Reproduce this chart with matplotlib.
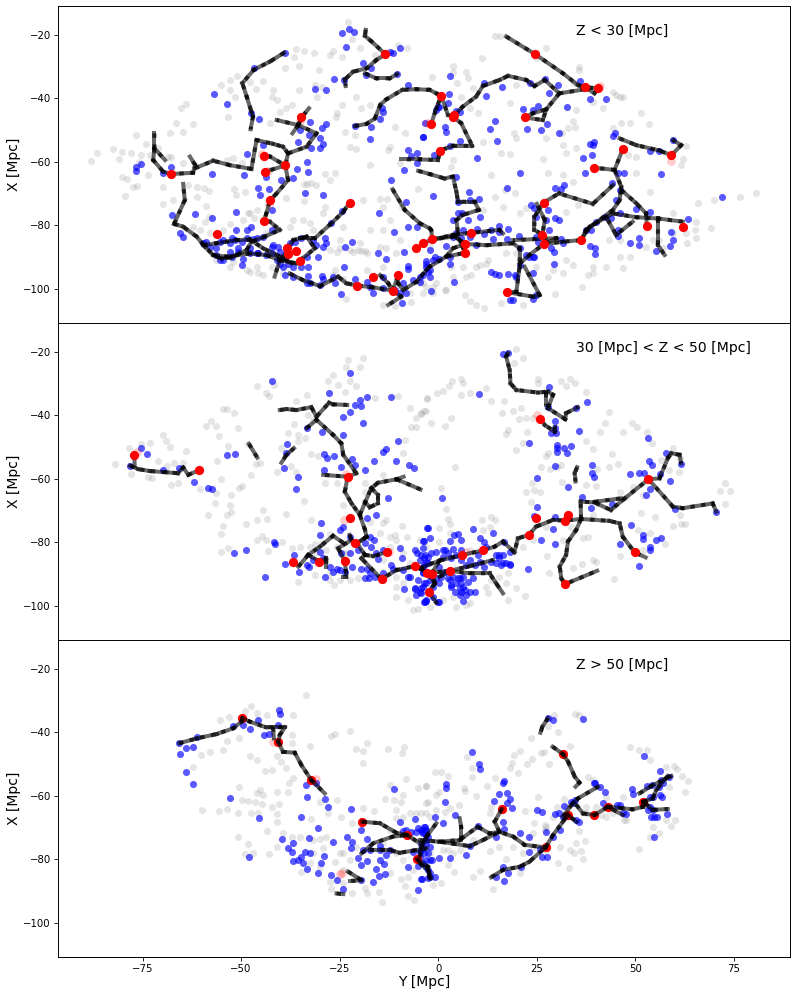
import matplotlib
matplotlib.use('Agg')
import matplotlib.pyplot as plt

# (Y, X) in Mpc
grey_low = [(-88,-59.6),(-86.5,-57.1),(-82.6,-55.8),(-81,-59),(-80.1,-56.8),(-78,-57.3),(-76.7,-51.5),(-75.5,-57.8),(-75.9,-59.9),(-74.2,-54.4),(-73.2,-57.8),(-71,-55.7),(-68.1,-51),(-66.6,-47.6),(-65.3,-43.1),(-63.9,-41.7),(-62.3,-48),(-64.7,-50.5),(-68.5,-58.3),(-67.7,-58.3),(-64.7,-60.4),(-80.3,-64.6),(-79,-65.5),(-79.5,-70.6),(-77.4,-68),(-76.4,-67.5),(-73.7,-64.1),(-69.9,-67.9),(-67.2,-72),(-69.8,-73.2),(-63.4,-67.3),(-61.3,-68),(-59.5,-68.3),(-61.3,-71.1),(-58.1,-69),(-58.8,-73.9),(-58.1,-77.2),(-59.2,-78.8),(-53.7,-59.4),(-52,-58.9),(-49.9,-60.4),(-51.9,-68.6),(-51.3,-70.4),(-49.1,-69.4),(-48.2,-76.2),(-46.8,-77.8),(-49.5,-78.3),(-52.9,-79.5),(-55,-35.9),(-52.9,-34.2),(-51,-32.9),(-47.8,-34.7),(-46.3,-37.1),(-44.4,-34.5),(-41.9,-37.3),(-42.1,-39.4),(-40.9,-40.5),(-51.5,-39.6),(-52.9,-37.3),(-53.3,-46),(-40.2,-44.2),(-38.5,-43.1),(-37,-42),(-42.7,-47.8),(-38.9,-30.5),(-36.6,-26.8),(-36,-24.5),(-34.1,-25.1),(-31.6,-25.8),(-35.3,-29.8),(-30.2,-31.2),(-26.7,-25.2),(-27.4,-26.3),(-24.3,-26.8),(-23,-15.8),(-21.8,-21.4),(-19.9,-24.2),(-16.1,-26.3),(-10.2,-23.2),(-7.9,-24),(-31.3,-35.8),(-30.7,-39.7),(-35.3,-37.3),(-29.6,-36.5),(-25.8,-44.7),(-26,-45.7),(-24.3,-42),(-20.8,-39.7),(-19.5,-43.1),(-17.2,-42),(-14.8,-45.2),(-11,-48.9),(-8.5,-51),(-23.7,-50.5),(-21.2,-51.5),(-22.5,-55.2),(-20.8,-55.9),(-12.3,-55.2),(-12.7,-56.2),(-17.2,-61),(-9.8,-60.4),(-5.1,-68.4),(-13,-71.7),(-14.8,-71.8),(-14,-74.1),(-19,-72),(-26.3,-63.6),(-28.8,-63.9),(-34.1,-67),(-32.2,-66.5),(-33.4,-67),(-30.9,-67.3),(-38.5,-71.5),(-34.1,-72.3),(-27.5,-65.7),(-28.8,-74.1),(-36.8,-78.3),(-34.3,-78.3),(-32.6,-79.3),(-29.2,-76.2),(-24.1,-80.4),(-19.9,-85.6),(-18.6,-87.9),(-25,-84.6),(-25.8,-88.3),(-21.6,-88.3),(-17.4,-81.4),(-14,-81.4),(-12.3,-78.3),(-9.8,-84.6),(-47.8,-94.5),(-45.7,-94.9),(-44.4,-95.6),(-42.3,-93),(-38.9,-92.5),(-26.7,-95.6),(-24.1,-97),(-23.5,-103),(-26.3,-94),(-14,-105),(-11,-105.4),(-6.8,-104),(-10.6,-88.8),(-2.2,-86.7),(-9.1,-74.1),(-56.3,-90.9),(-52,-91.4),(-48.6,-94),(-57.9,-82.5),(-60.5,-81.4),(-62.2,-80.4),(-54.6,-81.4),(-47.8,-76.2),(-46.1,-75.1),
    (14.3,-20.5),(15.6,-20.3),(11,-27.4),(3.7,-29.8),(-1.5,-33.1),(4.8,-35),(7.5,-33.7),(7.1,-31.6),(3.7,-31.6),(5.8,-39.4),(8,-43.1),(10,-44.5),(8.8,-36.8),(18.1,-41.5),(19.8,-35.8),(24.8,-27.4),(27.4,-24.2),(35.7,-30),(35.7,-31.2),(34.3,-35),(39.2,-41),(41.7,-43.1),(44.3,-37.9),(46.8,-39.7),(45.1,-38.9),(46,-39.4),(35,-43.6),(34.1,-47),(32.9,-49.4),(34.7,-49.1),(31.4,-50.8),(27.4,-52.5),(31.6,-54.7),(32.5,-57.3),(35,-55.7),(26.5,-59.2),(27.8,-63.6),(31.6,-64.1),(34.1,-66.2),(19.3,-51),(19.8,-52.5),(11.3,-53.6),(16,-57.3),(18.1,-57.5),(3.7,-59.4),(3.3,-61.5),(13.4,-64.1),(14.3,-71),(16.8,-68.8),(19.4,-69.9),(11.3,-75.1),(16.4,-74.1),(20.6,-76.2),(22.3,-74.6),(32.5,-75.7),(35.4,-73.5),(50.2,-63.6),(48.1,-57.8),(50.2,-58.3),(53.4,-48),(51.5,-44.5),(44.3,-49.4),(48.5,-47.8),(46.4,-47.8),(62,-59.2),(62.9,-54.9),(61.6,-61),(65.8,-73),(70,-72),(76.5,-71),(80.6,-69.7),(65.4,-78.8),(65,-81.4),(65.4,-84),(63.1,-85.6),(69.2,-80.9),(53.6,-69.4),(59.5,-76.2),(54.4,-84.6),(57,-87.2),(46,-84.6),(43.4,-84.6),(48.5,-89.8),(46.8,-93.5),(42.6,-93),(39.2,-95),(38,-95.6),(36.5,-99.5),(31.6,-95),(34.1,-92.5),(27.8,-96.1),(29.5,-101.7),(16,-104.5),(11.7,-106.1),(9.6,-105),(8,-103.9),(6.7,-101.9),(1.6,-100.3),(-1.4,-99.3),(7.1,-96.1),(8.4,-95.6),(12.6,-90.9),(10.5,-92.5),(-3.9,-101.4),(-4.7,-98.2),(3.3,-93),(6.3,-93),(21.5,-105)]
grey_low_dense = [(-25,-87.2),(-22.5,-87.7),(-20.3,-87.7),(-19.5,-87.9),(-18.2,-88.8),(-14.8,-86.7),(-13.2,-87.2),(-27.5,-87.7),(-43.6,-82.5),(-37.7,-80.4),(-31.8,-81.4),(-46.1,-93),(-52.9,-93),(-39.4,-95.1),(-14,-93),(-18.2,-94),(-7.2,-101.4),(-3,-99.3),(-3.9,-98.2),(-0.5,-98.2),(-1.4,-101.4),(2,-100.3),(3.7,-96.1),(9.6,-93),(12.2,-92),(17.2,-88.8),(19.8,-88.8),(24.8,-93),(29.1,-94),(32.5,-90.9),(39.2,-93),(46,-89.8),(52.7,-86.7),(56.1,-84.6),(59.5,-82.5),(62.9,-82.5)]
blue_low = [(-24.3,-19.4),(-22.7,-18.2),(-21.4,-19),(-23.5,-23.8),(-9.8,-24.2),(-11.5,-25.6),(-12.3,-25.3),(-19.2,-28.7),(-17,-30.5),(-26.5,-33.9),(-24,-34.2),(-18.4,-32.6),(-31.3,-36.9),(-28.4,-37.5),(-10.4,-32.3),(-7.7,-35.8),(-14.4,-43.1),(-14,-44.2),(-14.7,-46.5),(-17,-48.9),(-21.2,-48.7),(-17.4,-52.9),(-4,-52),(-3.4,-47.6),(-38.9,-25.6),(-46.8,-30.5),(-56.8,-38.6),(-53.5,-41.6),(-47.4,-44.7),(-45.4,-46.6),(-32.6,-47.3),(-28.4,-48),(-29.6,-49.4),(-35.1,-50),(-32.8,-51.6),(-29.9,-52.5),(-29.2,-54.3),(-29.9,-55.7),(-35.5,-53.6),(-32.2,-55.7),(-44.4,-54.7),(-48.4,-57.4),(-33.4,-60.1),(-35.8,-62.3),(-36.8,-65.2),(-33,-63.1),(-39.8,-65.7),(-43,-68.5),(-45.7,-68.2),(-45.2,-70.4),(-33.7,-69.9),(-29.2,-70.4),(-42.1,-75.1),(-51.4,-75.9),(-61.8,-76.3),(-57.4,-77.8),(-67.6,-76.8),(-51.2,-81.4),(-48.6,-81.4),(-47.4,-80.4),(-65.5,-82.5),(-64.7,-83.5),(-75.5,-60.7),(-76.7,-61.7),(-76.7,-62.8),(-67.7,-61.7),(-69.8,-63.4),(-57.5,-63.8),(-49.2,-64.2),(-43.6,-64.6),(-7.7,-56.2),(-6.8,-58),(-5.3,-57.1),(-5.3,-60.4),(-8.8,-62.6),(-12.1,-65.7),(-8.1,-72.5),(-15,-76.2),(-11.2,-82.2),(-7.7,-80.4),(-5.3,-80.4),(-22,-85.1),(-23.7,-86.9),(-15.3,-88.8),(-13.2,-90.4),(-8.8,-88.3),(-7.7,-92.7),(-7.7,-93.8),(-3,-91.2),(-24,-93.2),(-33,-95.9),(-33.4,-98.2),(-29.6,-95.9),(-29.2,-97),(-26.3,-98.2),(-24.7,-101.6),(-16.5,-101.4),(-8.1,-101.4),(-9.1,-104.3),(-21.2,-96.7),(-18.2,-97.7),(-30.5,-89.8),(-33,-93),(-36.8,-93),(-38.9,-95.6),(-49.9,-92.5),(-55.4,-90.9),(-52.9,-88.3),(-50.8,-87.2),(-47.8,-87.2),(-42.3,-86.7),(-40.2,-88.3),(-28.8,-84),(-28.4,-85.6),(-29.2,-86.7),(-27.1,-79.1),(-24.3,-75.4),(-42.3,-81.4),(-47,-84.4),(-52.4,-84),(-55.4,-85.1),(-59.6,-85.6),(-46.1,-88.8),(-49.5,-90.4),
    (3,-32.8),(11.5,-35),(16.2,-36.3),(12.2,-39.2),(27,-33.8),(23.2,-35.2),(30.3,-35.8),(28.2,-38.4),(36,-34.4),(38.4,-40.3),(42.6,-40.3),(2.6,-38.7),(-0.1,-42.8),(4.6,-44),(21.6,-43.2),(24,-43.6),(25.3,-42.4),(32.7,-42.6),(22.6,-49.5),(26,-49.9),(27.6,-48),(30.5,-51),(14.4,-47),(13.2,-49.7),(14.8,-53.3),(1.6,-49.1),(1.9,-50.6),(-4,-52),(5.4,-53.3),(2.9,-54.9),(-1.2,-57.7),(9.7,-58.9),(20.6,-63.4),(17.5,-68.3),(4.4,-64.6),(7.7,-69.4),(-1.4,-70.7),(5,-72.5),(10.2,-71.7),(10.6,-77.2),(6.1,-76.2),(29.5,-68.3),(32,-67.3),(31.2,-68.6),(23.6,-73.6),(27.8,-75.1),(29.5,-77.8),(30.5,-78.3),(28.2,-81.4),(17.7,-81.1),(15.4,-80.2),(9.8,-81.1),(20.4,-83.3),(17.4,-84.2),(13.9,-84.4),(11.5,-82.7),(1.9,-86.5),(-0.9,-89.8),(2.9,-92.1),(-2.2,-87.7),(31.2,-84.3),(29.4,-88.3),(29.3,-92),(24.4,-89.8),(24,-94.9),(13.3,-94.5),(14.3,-95.3),(15.4,-95.7),(17.6,-95.4),(19.4,-95.6),(3.9,-97.9),(-1.8,-100.6),(18.1,-103.5),(19,-103.5),(38.4,-86.5),(39.8,-89.1),(39.8,-87),(48.5,-85.4),(50.9,-86),(51,-84),(45.5,-83.3),(55.3,-88),(58.8,-86.5),(58.9,-82.2),(59.6,-84.6),(50.2,-74.9),(53.8,-75.7),(42.2,-77.2),(39.9,-78.8),(63.4,-78),(71.9,-70.9),(56.4,-63.9),(47.2,-63.6),(44.1,-66.7),(39.2,-54.7),(38.4,-54.4),(39.6,-53.6),(39.1,-57.9),(36.7,-58.8),(37.3,-63.4),(44.3,-51.8),(44.7,-51),(53.6,-56.5),(59.4,-53.1),(56,-56.5)]
blue_low_dense = [(-58.8,-85.1),(-58,-86.7),(-56.3,-87.2),(-54.6,-84.6),(-52.9,-85.6),(-51.6,-84.6),(-49.9,-85.1),(-48.6,-84),(-46.1,-84),(-44.4,-83.5),(-56.3,-89.3),(-54.6,-90.9),(-52.4,-89.8),(-50.8,-88.3),(-47.8,-88.8),(-45.7,-88.8),(-43.6,-89.3),(-42.3,-88.8),(-41,-90.9),(-40.2,-92),(-39.4,-89.8),(-38,-92),(-37.7,-85.6),(-36.4,-85.1),(-34.7,-84),(-31.8,-84.6),(-30.9,-86.2),(-33.4,-89.8),(-34.7,-93),(-39.4,-93),(-40.6,-86.7),(-41.9,-86.2),(-11,-100.3),(-9.8,-101.4),(-14,-99.8),(-17.4,-99.3),(-8.9,-98.2),(-6.4,-97.2),(-4.7,-96.1),(-3,-93),(-2.6,-94.5),(-14,-96.1),(-26.7,-96.1),(-30,-98.7),(-32.6,-98.2),(-36.8,-96.1),
    (-2.2,-94),(-3.1,-92),(-1.4,-90.9),(0.3,-90.4),(2.9,-89.8),(-3.9,-95.6),(-2.2,-96.1),(-4.7,-97.7),(4.6,-82.5),(5.8,-84),(3.7,-83.5),(6.3,-81.4),(8,-83.5),(9.6,-86.2),(13.4,-81.4),(15.5,-82),(20.6,-87.2),(22.3,-89.3),(24,-89.8),(24.8,-83.5),(25.3,-85.1),(28.7,-87.2),(31.6,-85.6),(37.5,-81.4),(38.8,-81.4),(43.9,-77.8),(45.5,-81.4),(46,-76.2),(45.1,-72),(46,-68.8),(45.5,-63.6),(24.4,-74.6),(24.8,-77.2),(27.4,-78.3),(5.4,-44.2),(0.3,-42.6),(-0.5,-43.6),(2.4,-41.5),(24,-103),(24.8,-101.9),(19.8,-96.1),(20.6,-92.5),(23.1,-89.8),(3.7,-78.3),(5,-76.2),(7.5,-78.3),(8,-72)]
red_low = [(-13.4,-26.1),(-34.7,-46),(-44.2,-58.2),(-38.8,-61.1),(-44,-63.1),(-67.7,-63.8),(-42.7,-72.1),(-22.5,-72.8),(-44.2,-78.5),(-56.2,-82.8),(-38.3,-87.2),(-36.2,-88),(-38,-89),(-35,-91.1),(-16.5,-96.1),(-10.1,-95.7),(-20.5,-98.9),(-11.6,-100.5),(-5.7,-87.2),(-3.9,-85.6),(24.6,-26.1),(37.3,-36.5),(40.6,-36.8),(0.75,-39.2),(3.7,-46),(4,-45.2),(-1.8,-48),(21.9,-46),(0.5,-56.4),(46.8,-55.9),(59.1,-57.9),(39.4,-61.8),(26.7,-72.8),(26.4,-82.9),(26.7,-85.9),(8.4,-82.3),(6.8,-85.8),(6.8,-88.6),(-1.5,-84.4),(36.2,-84.6),(52.9,-80.2),(62,-80.4),(17.5,-101)]
pink_low = [(-2.9,-47.7),(-44.6,-57.6),(-43.2,-62.8),(-42.9,-73.2),(59,-59.6),(-35,-47.2),(41,-36)]

fil_low = [
    [(-39.1,-25.6),(-42.7,-28.4),(-46.8,-31),(-49.7,-35.2),(-48.6,-39.4),(-47.4,-44.2),(-47,-45.7),(-47.6,-49.7)],
    [(-18.4,-18.4),(-18.6,-20.3),(-16.9,-22.1),(-13.4,-26.1),(-15.7,-27.9),(-18.2,-30.5),(-21.6,-31.6),(-23.7,-34),(-23.5,-36.1)],
    [(-18.6,-32.1),(-15.7,-33.7),(-12.3,-33.7),(-10.4,-32.3)],
    [(-21.2,-48.7),(-18.2,-48),(-16.1,-46.3),(-14.7,-42),(-13.2,-40.3),(-9.1,-37.3),(-5.6,-37.1),(-2.2,-37.3),(-0.5,-38.4),(0.75,-39.2),(-0.5,-43.1),(-1.8,-48)],
    [(0.75,-39.2),(2.45,-45.2),(3.7,-45.7),(5.8,-47.8),(8.6,-54.9),(3.7,-54.9),(0.5,-56.4),(-0.1,-59.4),(-4.7,-59.2),(-9.4,-59.2)],
    [(-5.1,-62.8),(-2.2,-63.8),(1.6,-65.2),(3.7,-64.6),(4.6,-69.4),(5,-72.5),(9.2,-72.5),(10.3,-75.1),(6.2,-76.7),(4.6,-78.3),(5,-82.5),(3.7,-83.5),(-1.5,-84.4)],
    [(-11.6,-68.6),(-8.5,-75.1),(-4.7,-79.3),(-2.2,-80.9),(-1.8,-81.5),(-1.5,-84.4)],
    [(-67,-79.5),(-64.7,-80.4),(-61.3,-83.5),(-59.2,-86.7),(-57.1,-89.3),(-55,-90.4),(-52.4,-90),(-48.6,-87.7),(-47.4,-85.1),(-44.4,-83.7),(-40.2,-81.4),(-42.7,-78.8),(-44.2,-78.5)],
    [(-59.6,-86.2),(-56.3,-85.6),(-51.2,-84.6),(-47.8,-84.4),(-44.4,-87.2),(-40.2,-89.8),(-37.2,-91.9)],
    [(-57.1,-89.3),(-53.7,-89.8),(-47.8,-88.8),(-43.6,-89.3),(-40.2,-90.9),(-41.5,-96.1)],
    [(-37.7,-95.1),(-34.3,-97.2),(-30,-99.1),(-25.4,-96.1),(-23.3,-98.2),(-20.5,-98.9),(-16.5,-99.5),(-11.6,-100.5),(-9.4,-102.4),(-12.7,-105)],
    [(-11.6,-100.5),(-10.2,-95.9),(-10.2,-98.2),(-8.9,-100.3),(-5.5,-97.7),(-3,-94),(-2.2,-93),(2,-89.8),(6.8,-88.6),(5.4,-84.6),(6.8,-85.8)],
    [(-14.8,-95.6),(-12.7,-98.2),(-11.6,-100.5)],
    [(-40.2,-90.9),(-36,-91.9),(-31.3,-87.2),(-33.4,-83.5),(-36.8,-84.6),(-39.3,-89.8)],
    [(-35.1,-84),(-31.3,-84),(-27.1,-79.3),(-24.1,-75.7),(-22.5,-72.8)],
    [(-67,-79.5),(-64.3,-72),(-64.7,-66.9)],
    [(-72,-51),(-72,-55.7),(-69.3,-59.4)],
    [(-72,-55.7),(-72.3,-59.4),(-69.8,-63),(-67.7,-63.8),(-62.2,-63.4),(-61.7,-60.9),(-63,-58.3)],
    [(-61.7,-62),(-57.1,-59.6),(-52.9,-61),(-47.4,-62.2),(-46.1,-53.1),(-41.9,-54.3),(-39.4,-55.2),(-38.1,-57.3),(-38.8,-61.1),(-42.7,-58.3),(-44.2,-58.2)],
    [(-38.8,-61.1),(-44,-63.1)],
    [(-38.8,-61.1),(-38.1,-65.7),(-41,-69.9),(-42.7,-72.1),(-43.6,-76.2),(-44.2,-78.5)],
    [(-38.1,-57.3),(-33.4,-55.2),(-30.9,-51),(-35.5,-48.4),(-41,-46.8)],
    [(-35.5,-48.4),(-37,-51)],
    [(-35.5,-48.4),(-34.7,-46),(-32.8,-43.1)],
    [(17.2,-20.5),(24.6,-26.1),(31.6,-32.1),(35.4,-35.8),(37.3,-36.5),(40.6,-36.8),(39.6,-38.4),(37.3,-36.5)],
    [(3.7,-45.7),(6.2,-42.6),(9.6,-39.4),(11.3,-36.1),(15.5,-34.2),(17.7,-32.9),(22.3,-34.2),(24.4,-36.1),(27,-34.2),(30.7,-38.4),(37.3,-37.1)],
    [(30.7,-38.4),(27.4,-43.4),(24,-44.7),(21.9,-46),(26.5,-46.8),(27.4,-43.4)],
    [(46,-52.6),(50.2,-54.7),(56.1,-56.4),(59.1,-57.9),(61.6,-54.7),(59.5,-53.1)],
    [(46.8,-55.9),(44.7,-62.5),(39.4,-61.8)],
    [(44.7,-62.5),(46.4,-67.8),(46,-72),(44.3,-75.1),(37.5,-81.4),(36.2,-84.6)],
    [(46.4,-68.8),(50.2,-73),(52.7,-76.2),(52.9,-80.2)],
    [(26.7,-72.8),(30.6,-69.9),(39.2,-73.2),(44.3,-67.3)],
    [(26.7,-72.8),(24.4,-77.2),(24.4,-81.4),(26.4,-82.9),(27,-78.3),(25,-73.2)],
    [(-3.9,-85.6),(-1.5,-84.4),(3.7,-83),(8.4,-82.3),(15.5,-81.4),(16.4,-82.5)],
    [(6.8,-85.8),(12.2,-86.2),(19,-85.6),(20.6,-87.2),(20.6,-93),(19.8,-100.9),(17.5,-101),(24,-102.4),(25.7,-101.9),(21.9,-93)],
    [(20.6,-92),(23.1,-89.3),(26.7,-85.9),(30,-84),(19,-84.6)],
    [(26.7,-85.9),(31.6,-85.1),(36.2,-84.6)],
    [(36.2,-84.6),(38.4,-80.4),(44.3,-76.2),(50.2,-77.4),(55.7,-77.8),(62,-78.8)],
    [(43,-78.3),(45.1,-83),(49.3,-78.8)],
    [(55.7,-77.8),(55.7,-86.2),(57.4,-89.3)],
    [(2,-89.8),(3.7,-87.2),(6.8,-85.8),(3.7,-83)],
]

grey_mid = [(-81.9,-55.4),(-78.5,-50.3),(-75.5,-49),(-73,-48.8),(-69.8,-46.1),(-69.1,-48.2),(-68.1,-49.8),(-71,-54.3),(-68.8,-55.8),(-63.9,-51.2),(-67.1,-55.1),(-64.7,-55.1),(-78,-58.3),(-73.6,-59.3),(-72.7,-59.6),(-67.8,-61.9),(-65.9,-61.4),(-60.5,-63.3),(-56.3,-64.5),(-55.2,-60),(-56,-54.5),(-53.3,-49.5),(-55.6,-46.4),(-59,-43.3),(-57.7,-41.9),(-56.3,-43.2),(-50.8,-43.8),(-54.7,-37.9),(-53.5,-38.1),(-51.9,-39.1),(-46.1,-30.6),(-43.7,-32.8),(-43,-34),(-41.6,-30.4),(-48.2,-49),(-47.6,-58.6),(-46.3,-55.3),(-45.1,-55),(-52.6,-65),(-50.5,-63),(-49.7,-62.1),(-56.7,-67.5),(-52.9,-68.2),(-53.7,-71.5),(-52.6,-70.3),(-58.3,-71.5),(-54.7,-74.8),(-55.2,-77.4),(-48.8,-74.2),(-46,-73),(-43.4,-72.7),(-44.4,-69.8),(-38.5,-71),(-34.1,-66.8),(-32.3,-72.9),(-46.1,-79.1),(-44.8,-78),(-43.6,-79.2),(-55.2,-82.9),(-53.4,-81.7),(-43.2,-82.6),(-39.6,-80),(-37.2,-81.7),(-35.5,-92.3),(-31.3,-90.2),(-26.5,-93.4),(-26.7,-27.3),(-22.9,-22.7),(-19.1,-22),(-19.9,-24.6),(-23.5,-24.8),(-27.9,-29.1),(-25.4,-30.5),(-22.5,-29.3),(-20.8,-30.7),(-33.4,-33.5),(-23.7,-32.5),(-36.2,-35.6),(-33,-39.8),(-31.8,-41.4),(-36.7,-42.7),(-38.1,-45.4),(-35.5,-46.1),(-33.9,-47.2),(-35.5,-48.2),(-39.8,-50.3),(-32.3,-52.1),(-30.5,-52.7),(-37.4,-55.9),(-36.1,-57.7),(-41,-57.7),(-28.8,-61.4),(-25.8,-61.4),(-18.6,-61.4),(-18.6,-64),(-14,-58.7),(-8.9,-51.9),(-8.5,-47.7),(-6.8,-43.5),(-5.6,-40.9),(-5.7,-43.7),(-4.3,-39.3),(-3,-38.5),(-7.2,-37.7),(-10.2,-34),(-16.1,-34.6),(-2.9,-34.7),(-13.2,-72.9),(-14,-74),(-9.1,-74.8),(-11,-77.6),(-17.4,-73.4),(-24.1,-68.2),(-27.5,-77.2),(-29.6,-80.3),(-31.3,-80.5),(-35.1,-81.3),(-24.1,-83.4),(-12.3,-81.3),(-14,-91.8),(-10.6,-90.8),(-6.4,-101.3),(-5.1,-101),(-10.6,-93.9),(-27.5,-91.8),(-14,-85.5),(-8,-78.2),
    (19.8,-19),(21.6,-22),(19.2,-23.6),(25.3,-28.5),(25.4,-29.9),(31.2,-29.1),(33.3,-28.6),(34.6,-29.9),(32.5,-30.7),(5.7,-28.5),(6.3,-29.9),(3.5,-29.3),(2.7,-30.7),(1.2,-32.2),(-0.3,-33),(-2.9,-34.6),(8,-32.8),(5.7,-33.5),(12.2,-31.4),(13.3,-35.6),(-3.5,-38.5),(-4.3,-39.5),(-1.8,-42.5),(3.1,-40.8),(1.6,-43.2),(4.2,-56.3),(16.6,-35.6),(16.2,-39.1),(19,-38.6),(21.1,-37.7),(20.4,-41.1),(22.3,-40.9),(24,-40.9),(17.7,-44.6),(17.1,-46),(22.5,-45.3),(21.5,-48.8),(19.6,-50.9),(27.2,-52.8),(27.8,-51.9),(28.4,-56.8),(26.1,-56.1),(31.2,-55.6),(30,-56.1),(37.4,-32.5),(43.3,-38.9),(37.5,-48.2),(39.2,-50.6),(40.9,-45.1),(42.4,-42.5),(46.8,-45.1),(49.1,-42.5),(50.4,-43.5),(53,-45.1),(54.2,-48.8),(44.1,-52.2),(45.5,-55.4),(43.3,-56.1),(40.2,-56.8),(40.1,-62.2),(37.5,-61.9),(31.4,-60.9),(23.8,-61.4),(22.3,-64),(25.9,-64.2),(23.6,-67.1),(24.4,-63.5),(51.9,-65),(47.6,-65.6),(49.3,-62.4),(46,-64),(56.5,-54),(58.6,-57.2),(61,-57.7),(61.4,-53.5),(59.5,-50.3),(72.7,-61.2),(71.5,-63.7),(74,-63.7),(72.6,-68),(61.2,-71.3),(61.6,-74.2),(62.5,-74.2),(59.5,-74.7),(51.5,-70.6),(55,-72.1),(50.6,-76),(53.6,-77.1),(57.4,-80.5),(51.9,-82.4),(46.2,-84.2),(34.1,-88.1),(36.5,-86.9),(39.2,-85.5),(40.1,-86),(44.5,-91.5),(28.2,-89.7),(27.6,-84.2),(19.8,-94.2),(21.9,-96.7),(17.7,-98.1),(12.6,-96),(17.7,-89.7),(7.1,-99.7),(3.7,-97.1),(0.8,-62.9),(2,-69.4),(2.5,-72.6),(2.9,-74.2),(11.2,-72.9),(13.4,-72.1),(38,-78.2),(36.7,-78.7),(33.7,-75),(31.6,-79.2),(39.2,-71.3)]
grey_mid_dense = [(-32.6,-81.3),(-30.9,-82.9),(-28.4,-82.4),(-25.8,-81.3),(-23.3,-83.4),(-27.5,-89.7),(-25,-91.8),(-22.5,-91.8),(-20.3,-91.3),(-14.8,-77.1),(-12.3,-78.2),(-10.6,-79.2),(-8.9,-83.4),(-7.2,-86.6),(-8.9,-92.9),(-10.6,-97.1),(-7.7,-98.1),(-2.2,-100.2),(-3,-81.3),(0.3,-79.7),(2.9,-77.1),(0.3,-75.5),(8,-82.4),(13,-75),(11.3,-76),(14.3,-72.9),(13.4,-91.8),(15.5,-90.8),(12.2,-93.9),(17.2,-92.9),(8,-99.2),(4.6,-100.2),(1.2,-98.1),(21.5,-81.3),(24,-79.2),(27.4,-75),(-4.7,-79.2)]
blue_mid = [(-42.3,-29.1),(-22.3,-26.5),(-27.7,-32.9),(-18,-34.3),(-11.9,-34.3),(-19.9,-35.2),(-21.1,-36.6),(-19.7,-37),(-24.1,-40.4),(-22.3,-38.9),(-19.1,-42.3),(-33.4,-43.9),(-29.6,-45.3),(-24.1,-46.1),(-38.3,-49),(-38.5,-51.9),(-39.2,-56.6),(-35.5,-59.3),(-36,-63.3),(-53.7,-52.6),(-51.6,-52.2),(-74,-52.1),(-75.5,-50.3),(-78.2,-55.8),(-65.7,-56.4),(-69.8,-57.2),(-61.9,-60.9),(-58.5,-62.7),(-57.5,-63.2),(-28.9,-52.1),(-28.2,-53.5),(-26.5,-52.8),(-24.6,-56.3),(-28.9,-57.2),(-21.8,-53.8),(-21.2,-55.6),(-18.5,-57.2),(-16.3,-54.3),(-14,-51.4),(-13.3,-50.5),(-10.2,-48.2),(-10.6,-54.3),(-7.5,-55.6),(-6.2,-56.4),(-12.7,-65.9),(-15.9,-71.2),(-18,-72.3),(-29.8,-74),(-29.9,-77.6),(-25,-76),(-24.1,-75),(-17.4,-78.2),(-16.4,-79.2),(-41.7,-80),(-41.3,-80.6),(-48.8,-82.3),(-51.9,-83.3),(-43.9,-91),(-36.6,-83.9),(-38.9,-86.9),(-35.4,-89.2),(-32.8,-87.6),(-30,-83.1),(-22.5,-78.2),(-9.6,-81.8),(-5.8,-82.4),(-3.7,-79.4),(-2.8,-75.5),(-3.9,-81.6),(-3.3,-83.9),(-3,-86),(-9.2,-85),(-15.3,-85.2),(-19.7,-88.5),(-28.8,-90.8),(-26.7,-89.2),(-25,-88.7),(-17.6,-91.3),(-18.6,-91.3),(-16.1,-90.8),(-7.7,-91),(-8.7,-94.5),(-5.8,-94.7),(-5.6,-96.5),(-4.3,-94.4),(-3.4,-98.6),(-11.9,-87.1),(-14,-82.4),
    (16.4,-20.6),(17.7,-20.2),(10.2,-33.1),(37.7,-35.9),(34.8,-37.7),(28.2,-31.2),(27.8,-37.2),(29.5,-41.6),(28.6,-45.4),(29.9,-45.6),(29.5,-44),(35.7,-44.8),(22.9,-48.6),(30.1,-49.3),(30.1,-50.4),(32,-50.1),(33.7,-49.6),(32.7,-51.7),(30,-51.4),(29.7,-55.8),(39.1,-55.5),(39.1,-58.2),(39.5,-59.5),(25,-59.7),(32.9,-62.4),(1,-65.9),(25.1,-68.7),(24.4,-71.6),(29.5,-72.1),(29.1,-75.9),(26,-79.2),(29.5,-80.5),(22.7,-88.2),(-2.6,-75.5),(8.8,-75.9),(5,-77.3),(4.1,-77.6),(14,-77.1),(10.5,-78.5),(11.7,-79.7),(16.6,-79.7),(-2.2,-78.7),(-3.9,-79.5),(5.8,-79.2),(2.9,-79.4),(1.6,-82.4),(3.7,-82.2),(5.8,-82.4),(15.5,-83.9),(18.1,-82.9),(16.4,-86.6),(18.1,-86.9),(10.1,-83.9),(13.4,-86.2),(5.4,-91.3),(6.3,-93.9),(5.8,-95.5),(9.2,-95.7),(6.3,-98.3),(0.3,-98.6),(-3,-98.4),(-4.7,-95.5),(3.3,-93.4),(2.9,-91.8),(38.8,-69.2),(36.5,-65.6),(44.1,-67.9),(48.8,-74.5),(51.9,-77.6),(51.9,-78.9),(55.3,-79.2),(56.5,-78.6),(53.6,-81.3),(53.6,-82.4),(46.2,-80.6),(51,-87.4),(48.7,-58.4),(51,-58.2),(52.1,-58),(53.4,-54.5),(54.2,-55.6),(56.3,-58.5),(53.6,-63.2),(52.7,-65),(58.8,-60.8),(57.8,-51.7),(61.6,-55.3),(53.1,-47),(60,-69.5),(70.5,-70.3)]
blue_mid_dense = [(-4.3,-83.9),(-3.5,-85),(-2.6,-86.6),(-3.9,-87.6),(-1.8,-83.4),(-0.5,-82.9),(1.2,-82.4),(2.5,-83.4),(1.2,-84.5),(3.3,-85),(4.6,-83.9),(5.8,-85.5),(7.1,-87.1),(8,-85.5),(9.2,-87.1),(10.5,-86),(11.7,-87.6),(14.7,-86.6),(16,-87.1),(17.2,-86.6),(18.1,-87.1),(0.3,-87.6),(1.6,-89.2),(0.8,-90.8),(-0.5,-91.3),(-2.2,-91.8),(-3.5,-92.9),(-3.9,-89.2),(-3.9,-94),(-1.4,-94),(0.3,-92.9),(2.5,-91.3),(3.7,-90.8),(5,-91.3),(6.3,-90.8),(7.5,-92.3),(8.8,-91.3),(5.8,-92.9),(4.6,-92.9),(3.3,-93.9),(5.4,-94.4),(6.7,-95),(5.4,-96.5),(7.1,-96.5),(8,-95.5),(4.2,-95.5),(-1.4,-97.1),(-0.1,-98.6),(-3.5,-98.6),(14.7,-83.9),(15.5,-85),(12.2,-81.3),(16.4,-83.9),
    (-5.5,-83.4),(-4.7,-85.5),(-3.5,-87.1),(-2.7,-84.5),(-3.9,-89.7),(-5.1,-91.8),(-3,-92.9),(-5.8,-94.4),(-4.3,-96),(-3,-98.1),(-7.2,-90.8),(-8.9,-88.7),(-11.5,-88.2),(-14,-89.7),(-17.4,-89.7),(-18.2,-88.2),(-22,-87.6),(-23.7,-89.2),(-25.8,-88.2),(-27.5,-87.6),(-29.2,-85),(-31.8,-85.5),(-33.4,-87.1),(-20.3,-82.4),(-22.5,-83.4),(-24.6,-83.4),(-15.7,-83.4),(-17,-81.3),(-18.6,-80.3)]
red_mid = [(-77.1,-52.6),(-60.6,-57.2),(-23,-59.3),(-22.5,-72.4),(-21.1,-80.3),(-13,-83.1),(-36.8,-86),(-30.2,-86.1),(-23.7,-85.8),(-14.4,-91.5),(-5.8,-87.4),(25.9,-41),(53.3,-60.1),(24.8,-72.3),(33,-71.3),(32.2,-73.1),(23,-77.6),(50,-83.1),(11.3,-82.5),(5.9,-84),(2.9,-88.9),(-2.9,-89.7),(-1.5,-89.9),(-2.4,-95.5),(32.2,-93.1)]
pink_mid = [(-24,-73),(-23.5,-58.5),(25,-40),(-76.5,-51.5),(-12.5,-83),(-14,-91.3),(7,-83)]

fil_mid = [
    [(-78.2,-55.8),(-76.1,-56.9),(-73.2,-57.5),(-68.9,-57.9),(-66,-58.2),(-64.7,-56.4),(-63.4,-58.7),(-60.6,-57.2)],
    [(-77.1,-52.6),(-77,-56.1)],
    [(-48,-49),(-45.9,-53.3)],
    [(-36.6,-50.3),(-38.5,-52.4),(-39.8,-54.9)],
    [(-40.2,-38.3),(-38.5,-38),(-36,-38.3),(-32.2,-37.4),(-30.9,-40.4),(-27.7,-36),(-26.7,-36.5),(-23.1,-36.7)],
    [(-33.4,-44),(-30.9,-41.4),(-26.7,-46.1),(-24.6,-48.8),(-24.1,-52.4),(-20.8,-58.2),(-23,-59.3),(-29.2,-58.7)],
    [(-23,-59.3),(-23.7,-64),(-22,-67.7),(-19.9,-71.3),(-18.6,-76),(-18.2,-78.2),(-20.8,-80.3)],
    [(-19.9,-71.3),(-17,-62.9),(-15.3,-61.2),(-10.6,-60.1),(-8.8,-59.3)],
    [(-10.6,-60.1),(-4.5,-63.3)],
    [(-17,-62.9),(-15.3,-65),(-15.3,-67.7),(-17.4,-68.9),(-18.6,-67.1)],
    [(-35.5,-87.6),(-33,-83.9),(-30,-81.3),(-26.7,-77.9),(-24.1,-80.1)],
    [(-33,-83.9),(-30,-86),(-28.4,-85),(-28.4,-87.6)],
    [(-22.5,-77.6),(-22,-79.2),(-25.4,-81.8),(-23.7,-86),(-23.3,-90.8),(-24.2,-90.8)],
    [(-18.2,-78.2),(-20.6,-80.3),(-18.6,-83.9),(-19.5,-85),(-14.4,-91.5),(-10.6,-88.7),(-5.8,-87.4),(-2.2,-89.7)],
    [(-18.6,-83.9),(-16.5,-84.3),(-13,-83.1)],
    [(-4.7,-88.1),(0.3,-85.7),(5.8,-84),(11.3,-82.5),(14.3,-81.3),(16.4,-79.7),(19.3,-83.1),(20.2,-78.7),(23,-77.6),(24.8,-75),(29.1,-72.9),(32.2,-73.1),(36.2,-72.6),(43.4,-73.2),(46,-74),(46.8,-78.2),(49.8,-83.1),(52.6,-84.7)],
    [(36.2,-72.6),(35,-76),(32.9,-79.7),(32.4,-83.9),(30.8,-87.6),(31.2,-91.3),(32.2,-93.1),(40.3,-88.9)],
    [(36.2,-72.6),(36.1,-67.1),(39.6,-67.4),(43.8,-69.8),(46.8,-66.6)],
    [(39.6,-67.2),(46.4,-66.1)],
    [(46.8,-66.6),(53.3,-60.1),(56.1,-59.8),(58.2,-53.5),(59.1,-51.9),(61.2,-52.4),(61.6,-55.1)],
    [(53.3,-60.1),(59.5,-68.7),(62,-69.2),(69.6,-67.7),(70.5,-70.3)],
    [(17.7,-20.4),(17.2,-21.5),(18.1,-25.7),(18.3,-29.9),(19.8,-32),(25.3,-32.8),(27.8,-32.5),(29.1,-33.5),(27.8,-37.7),(32.2,-41.2),(32.4,-39.3),(35.4,-37.4)],
    [(27.2,-33),(27.2,-36.7)],
    [(25.9,-41),(27,-43),(29.5,-45.1),(29.5,-43.7)],
    [(35.2,-56.3),(34.6,-58.2),(34.8,-60.8)],
    [(-2.9,-89.7),(2.9,-88.9),(8,-89.7),(13,-89.7),(14.7,-92.9),(16.4,-96)],
    [(0.3,-90.8),(2.9,-88.9),(7.5,-87.6),(13.9,-85.5)],
    [(-4.7,-88.1),(-2.6,-89.7),(-0.9,-92.9),(-2.4,-95.5),(-0.5,-99)],
    [(0.3,-85.7),(-1.4,-89.2),(-0.9,-92.9)],
]

grey_high = [(-33.6,-28.1),(-47.5,-31.7),(-49,-33.2),(-45.9,-33.8),(-43.4,-34.5),(-36.8,-34.5),(-55.4,-36.1),(-53,-35),(-37.2,-40.8),(-37,-43.2),(-27.3,-41),(-26.3,-40.6),(-22.5,-39.4),(-18,-43.4),(-20.9,-45.3),(-19,-45.8),(-32.6,-44.3),(-12.7,-45.3),(-8.6,-44.5),(-9.3,-46.4),(-19.2,-49.7),(-47.8,-47.4),(-45.9,-48.7),(-60.3,-47.1),(-57.9,-46.3),(-54.6,-45.6),(-53.7,-42.7),(-50.5,-41.7),(-62.3,-50.9),(-41,-47.3),(-39.8,-49.2),(-38.5,-51.3),(-44,-52.1),(-42.3,-51.8),(-36.8,-54.4),(-37.8,-56),(-38.2,-58.6),(-41,-58.9),(-50.6,-57.1),(-45.3,-58.1),(-46,-59.2),(-44.4,-59.7),(-49.7,-61.3),(-48.2,-61.6),(-46.5,-61.9),(-44.6,-62.5),(-42.3,-63.4),(-40.4,-62.6),(-59.9,-64.4),(-55.6,-64.8),(-53.7,-64.1),(-50.7,-65.3),(-47.5,-65.3),(-45.6,-65.3),(-41,-65.8),(-41,-68.1),(-43.5,-70.9),(-50.9,-72.8),(-48.2,-75.1),(-49,-78.4),(-47.1,-78.1),(-43,-78.3),(-39.4,-71.6),(-37.2,-73),(-35.1,-72.8),(-31.8,-73.9),(-30,-73.4),(-28.4,-72.8),(-41,-76),(-31.8,-78.1),(-29.2,-76.5),(-30,-82.3),(-26.3,-80.7),(-32.6,-81.2),(-34.7,-83.9),(-24.1,-78.1),(-22,-68.6),(-24.7,-66.5),(-25.8,-61.3),(-29.9,-61.9),(-27.9,-65.5),(-32.2,-67.1),(-19,-63.9),(-16.4,-64.6),(-13.5,-61.1),(-12.3,-56.5),(-8.3,-54.8),(-5.1,-57.6),(-3,-56.8),(-8.9,-59.7),(-11.2,-61.3),(-9.4,-62),(-10.6,-64.4),(-3,-62.1),(-10.6,-67),(-7.2,-65.5),(-27.5,-87),(-27.3,-89.4),(-24.1,-83.3),(-21.8,-90.7),(-18,-90.7),(-18.6,-89.1),(-15.1,-90.1),(-14.4,-93.3),(-9.5,-86.3),(-7.7,-85.6),(-8.5,-88.4),(-7.7,-91.5),(-6.2,-92.6),(-24.1,-87.5),(-14,-74.9),(-12.3,-70.7),
    (34.7,-34.2),(35.7,-34.5),(29.3,-34.5),(27.8,-38),(30.3,-40),(23.4,-41.9),(20.8,-45.8),(19.1,-47.1),(26.1,-46.6),(26.7,-46.1),(33.3,-44.3),(23.8,-48.4),(28.1,-49.9),(22.6,-49.9),(18.8,-49.7),(18.3,-51.1),(20.3,-52.9),(14.3,-54.3),(12.4,-56.8),(-0.9,-52.3),(0.8,-52.6),(-3,-56.8),(2.4,-53.7),(6.5,-57.6),(6.7,-58.3),(8.6,-53.9),(8.5,-51.3),(7.4,-47.6),(9.6,-59.9),(5.2,-62.9),(2.9,-63.9),(-2.6,-61.8),(0.3,-58.7),(-0.5,-59.7),(1.6,-65),(-4.3,-65.5),(13,-65.5),(13.4,-63.4),(22.1,-64.6),(25.3,-60.2),(30,-63.4),(32,-61.1),(38,-53.9),(39.2,-55),(42.6,-60.2),(24.4,-68.6),(27,-69.2),(27,-70.7),(24,-71.8),(27.4,-77),(30.8,-76),(33.3,-77),(34.3,-77.9),(36.3,-77.2),(37.1,-74.3),(35.8,-70.9),(35,-74.9),(36.8,-79.7),(30.4,-81.2),(33.1,-82.8),(13,-77.2),(17.1,-79.8),(10.5,-83.5),(8.8,-85.4),(4.1,-84),(2.5,-81.8),(0.8,-87.5),(-1.4,-88),(14,-89.3),(20.6,-84.4),(21.5,-78.1),(5.4,-77),(2.5,-77),(-2.2,-78.1),(48.6,-44.5),(51,-45.4),(53,-45.5),(53.8,-48.7),(57.8,-51),(59.7,-50.6),(60.5,-51.5),(61.8,-53.6),(63.3,-55.3),(62.6,-58.7),(58.6,-57.1),(60,-67.6),(59.1,-69.5),(56.1,-71.8),(53.6,-72.8),(51,-76.7),(44.3,-65.5),(41.3,-66),(37.5,-65.5),(40.1,-63.4),(47.2,-67.6),(46.8,-60.2)]
grey_high_dense = [(-14,-77),(-10.6,-78.1),(-8.9,-80.2),(-6.4,-83.3),(-12.3,-84.4),(-22.5,-80.2),(-25,-78.1),(-20.8,-76),(-8.9,-66.5),(-5.6,-65.5),(-3,-65.5),(-3,-76),(1.2,-77),(3.7,-78.1),(-2.2,-66.5),(-0.5,-64.4),(8.8,-73.9),(15.5,-76),(19,-76),(24,-76),(27.4,-69.7),(29.1,-66.5),(32.5,-63.4),(37.5,-63.4),(42.6,-66.5),(47.7,-67.6),(54.4,-69.7),(57.8,-67.6)]
blue_high = [(-40.3,-32.9),(-40.2,-34.2),(-61.3,-41.5),(-65.7,-43.4),(-63.9,-44.8),(-62.2,-44.7),(-65.5,-46.7),(-64,-52.5),(-62.2,-56.1),(-52.8,-60.5),(-45.7,-36),(-47.8,-38.8),(-52,-38),(-49.6,-37.6),(-44.2,-40.8),(-43,-40.6),(-40.6,-37.6),(-33.6,-56.6),(-33.4,-60.2),(-30.9,-56),(-28.8,-61),(-27.9,-63.4),(-45.4,-66.8),(-34.8,-66.5),(-22.1,-64.1),(-30.6,-70.1),(-39.6,-73.5),(-36.8,-74.7),(-32.9,-73.2),(-26.7,-74.5),(-38,-76.5),(-37.2,-77.5),(-33.9,-77.5),(-32.6,-77.9),(-34.7,-79.1),(-35.5,-80.2),(-36.8,-80.6),(-34.3,-81.2),(-33.4,-82.9),(-29.8,-81),(-29,-78.8),(-30.6,-84.2),(-27.2,-85),(-25.6,-86.5),(-23.2,-72.8),(-22,-74.6),(-22.2,-76.5),(-19.7,-70.7),(-18.2,-73.6),(-20.4,-79.5),(-18.2,-80.4),(-19.5,-81.8),(-15.7,-83.1),(-13.6,-84.7),(-15,-85.2),(-16.5,-87.1),(-14.7,-80.2),(-13.8,-81.4),(-13.2,-78.6),(-14.8,-75.7),(-11.3,-57.8),(-9.8,-68.1),(-6,-67.4),(-5.1,-70.2),(-3.4,-69.9),(-8.9,-71),(-7.7,-82.3),(-5.1,-82.1),(-4.1,-86),(-5.1,-89.5),(-24.1,-89.4),(-19.5,-86.5),(-48,-79.2),(-2.6,-85.9),(-2.2,-80.2),(-3,-72.3),
    (8.6,-46.3),(10.2,-50),(10.6,-51.6),(2,-56.2),(2,-57.6),(1.8,-61.9),(4.3,-65.9),(16.6,-55.2),(16.4,-55.8),(15.3,-59.3),(14.1,-61.6),(17.5,-59.2),(18.3,-60.8),(17.4,-62.3),(18.8,-63.7),(16.4,-68.1),(16.6,-70.5),(14.7,-73),(10.1,-69.4),(20.6,-71.6),(23,-72.8),(25.1,-64.4),(26.4,-65),(27.2,-71.3),(23,-77.6),(25.7,-76.8),(26.3,-79.1),(27.5,-79.3),(21,-82.3),(17.6,-84.2),(16.6,-86.7),(7.1,-78.6),(8,-75.8),(2.9,-79.5),(0.3,-79.5),(-1.7,-80.1),(-0.8,-66.7),(1.2,-68.4),(-3.5,-69.9),(-4.1,-71.5),(-2.2,-85.6),(-0.8,-85.4),(-4.3,-86),(27.8,-35.6),(29.1,-36),(36.8,-35.9),(31.6,-46.8),(29.7,-65.7),(30.5,-65.3),(31.9,-63.1),(30.8,-70.7),(33.7,-61.8),(34.6,-61.3),(35.8,-68.1),(39.8,-55.8),(42.2,-58.9),(41.7,-62.3),(47.7,-65.7),(45.4,-62.9),(49.2,-57.9),(49.3,-59.4),(52.2,-47.4),(56.3,-52.1),(52.9,-56.8),(54.2,-56.5),(56.5,-55),(56.3,-59.7),(56.8,-60.4),(53.2,-64.4),(54,-66.5),(55.4,-66.5),(58,-65.6),(54.6,-73),(40.9,-57.1),(39.6,-56)]
blue_high_dense = [(-3.4,-70.7),(-2.6,-72.8),(-3,-74.9),(-3.9,-76.5),(-2.6,-78.1),(-4.7,-77.5),(-6.4,-77.5),(-8.1,-70.7),(-6.8,-71.2),(-2.2,-76),(-3,-80.2),(-3,-82.3),(-5.6,-71.2),(-12.3,-77),(-14.8,-77),(-17.4,-77),(-19,-77),(-3.9,-71.8),(-3,-73.9),(-4.3,-75),(-4.3,-77),(-4.7,-79.1),(-3.5,-78.1),(-3.9,-81.2),(-2.6,-83.3),(-2.2,-84.4),(-4.3,-70.7),(-3,-70.7),(54.4,-64.4),(53.6,-63.4),(54.8,-66.5),(54.4,-60.2),(53.6,-60.2),(56.1,-57.1),(58.6,-53.9),(57,-56),(34.1,-62.3),(32.9,-66),(31.6,-66.5),(35,-67.6),(46.8,-65.5),(46,-62.9),(29.1,-72.8),(16.4,-82.3),(14.7,-85.4)]
red_high = [(-49.7,-35.5),(-40.6,-42.9),(-32.2,-55),(-19.3,-68.1),(-7.9,-72.3),(-5.5,-79.9),(16.1,-64.1),(31.6,-46.8),(32.9,-66),(39.6,-66),(43,-63.4),(52,-61.8),(27.2,-76.2)]
pink_high = [(-24.9,-84.6),(-24.4,-84.2),(-31,-54.7),(-42,-43)]

fil_high = [
    [(-65.7,-43.4),(-61.3,-41.9),(-56.2,-40.5),(-52,-38.7),(-49.9,-36.6),(-49.7,-35.5),(-47.8,-36.6),(-43.7,-38.4),(-40.2,-38.4),(-38.9,-38.4),(-40.2,-40.8),(-40.6,-42.9),(-39.4,-46.1),(-36.4,-46.4),(-34.7,-50.3),(-32.2,-55),(-28.8,-59.2)],
    [(-41.9,-38.4),(-41.7,-41.9)],
    [(-19.3,-68.1),(-14.8,-68.6),(-10.6,-71.6),(-7.9,-72.3),(-4.7,-74.9)],
    [(-19.5,-78.1),(-16.5,-74.9),(-11.5,-72.8),(-7.9,-72.3)],
    [(-17.4,-77),(-12.3,-77),(-9.8,-77.9),(-6.4,-77.2),(-3,-76.5)],
    [(-22.9,-83.8),(-19.5,-86.5),(-22.4,-86.8)],
    [(-25.8,-90.7),(-24.1,-90.9)],
    [(-5.5,-79.9),(-2.6,-82.3),(-2.2,-85.9)],
    [(-4.7,-79.1),(-4.3,-76),(-3,-72.8),(-0.5,-68.6)],
    [(-4.7,-73.9),(0.3,-74.4),(3.7,-75),(8,-75.8),(11.3,-73.9),(15.5,-71.3),(19,-72.8),(21.9,-75.4),(27.2,-76.2)],
    [(0.3,-74.4),(5.4,-73.9),(10,-69.7),(13,-71.8),(15.5,-71.3)],
    [(5.8,-73.9),(5.8,-69.7),(5.4,-67)],
    [(15.5,-71.3),(14.3,-68.1),(16.1,-64.1)],
    [(13.4,-85.6),(16.4,-83.3),(20.6,-82.3),(23.1,-80.7),(27.2,-76.2)],
    [(27.2,-76.2),(29.1,-72.3),(31.6,-68.1),(32.9,-66),(35,-68.1)],
    [(31.6,-66.5),(34.1,-62.3),(35.4,-60.8),(40.5,-57.1)],
    [(35,-62.8),(36.7,-65.5),(39.6,-66),(43,-63.4),(46.8,-66)],
    [(43,-63.4),(46.8,-63.9),(49.3,-64.2),(52,-63.4),(52,-61.8),(54.4,-64.4),(58.2,-64.1)],
    [(52,-61.8),(54.4,-60.8),(55.3,-58.1),(58.2,-53.7)],
    [(51,-59.2),(54.4,-56.6),(59.1,-53.7)],
    [(29,-44.5),(31.6,-46.8),(32.9,-49.2),(34.6,-53.9),(35.8,-55.8),(34.8,-57.1)],
    [(27.8,-35.5),(26.4,-38.2),(25.9,-40.1)],
    [(-4.7,-81.2),(-2.6,-83.3),(-1.8,-85.9)],
]

panels = [(grey_low + grey_low_dense, blue_low + blue_low_dense, fil_low, red_low, pink_low, 'Z < 30 [Mpc]'),
          (grey_mid + grey_mid_dense, blue_mid + blue_mid_dense, fil_mid, red_mid, pink_mid, '30 [Mpc] < Z < 50 [Mpc]'),
          (grey_high + grey_high_dense, blue_high + blue_high_dense, fil_high, red_high, pink_high, 'Z > 50 [Mpc]')]

fig = plt.figure(figsize=(7.97, 9.97), dpi=100)
left, width = 58/797, 732/797
bottoms = [(997-323)/997, (997-640)/997, (997-957)/997]

for i, (grey, blue, fil, red, pink, title) in enumerate(panels):
    ax = fig.add_axes([left, bottoms[i], width, 317/997])
    ax.scatter(*zip(*grey), s=26, c='grey', alpha=0.2, linewidths=0, zorder=1)
    ax.scatter(*zip(*blue), s=26, c='blue', alpha=0.65, linewidths=0, zorder=2)
    ax.scatter(*zip(*pink), s=40, c='red', alpha=0.2, linewidths=0, zorder=2)
    # the last panel has the filaments on top of the red points
    ax.scatter(*zip(*red), s=44, c='red', linewidths=0, zorder=5 if i < 2 else 3)
    for line in fil:
        ys, xs = zip(*line)
        for a, b in zip(line[:-1], line[1:]):
            ax.plot([a[0], b[0]], [a[1], b[1]], color='k', alpha=0.6, lw=2.9, zorder=4)
        # darker blocks every few pixels along each filament
        ax.plot(ys, xs, color='k', alpha=0.7, lw=2.9, dashes=(1.1, 1.6), dash_capstyle='butt', zorder=4)
    ax.set_xlim(-96.45, 89.2)
    ax.set_ylim(-110.7, -10.9)
    ax.set_yticks([-20, -40, -60, -80, -100])
    ax.set_xticks([-75, -50, -25, 0, 25, 50, 75])
    ax.tick_params(labelsize=7.3, length=2.6, width=0.6, pad=2.5)
    ax.text(35, -18.7, title, fontsize=10.1, va='center')
    ax.set_ylabel('X [Mpc]', fontsize=10, labelpad=2)
    for s in ax.spines.values():
        s.set_linewidth(0.7)
    if i < 2:
        ax.tick_params(bottom=False, labelbottom=False)
    else:
        ax.set_xlabel('Y [Mpc]', fontsize=10, labelpad=1)

plt.savefig('out.png', dpi=100)
